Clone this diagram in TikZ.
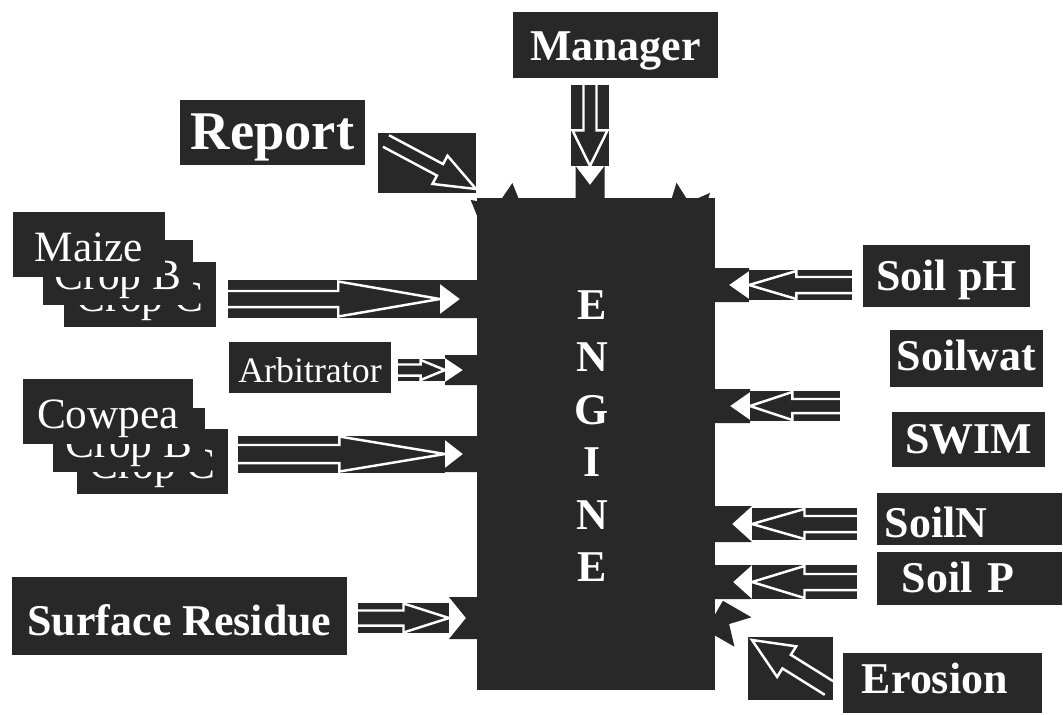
\documentclass[tikz,border=0pt]{standalone}
\usepackage{fontspec}
\setmainfont{Liberation Serif}
\usepackage{tikz}
\usetikzlibrary{calc}
\definecolor{engdark}{RGB}{40,40,40}
\tikzstyle{engine} = [fill=engdark, inner sep=0pt]
\tikzstyle{lbox} = [fill=engdark, text=white, inner sep=0pt, font=\bfseries\fontsize{12.5}{15}\selectfont]
\tikzstyle{cbox} = [fill=engdark, text=white, inner sep=0pt, text height=0.49cm, text depth=0.15cm, font=\fontsize{12.3}{15}\selectfont]
\tikzstyle{englab} = [text=white, align=center, inner sep=0pt, font=\bfseries\fontsize{12.5}{14.9}\selectfont]
\tikzset{
  band/.style={draw=engdark, line width=#1},
  barrow/.style n args={3}{draw=white, line width=0.7pt, to path={
      ($(\tikztostart)!#3!(\tikztotarget)$) coordinate (hb)
      ($(\tikztostart)!#1!90:(\tikztotarget)$) -- ($(hb)!#1!90:(\tikztotarget)$)
      -- ($(hb)!#2!90:(\tikztotarget)$) -- (\tikztotarget)
      -- ($(hb)!#2!-90:(\tikztotarget)$) -- ($(hb)!#1!-90:(\tikztotarget)$)
      -- ($(\tikztostart)!#1!-90:(\tikztotarget)$)}},
  pics/sock/.style n args={4}{code={
      \fill [engdark] (-3,{-#2/2}) -- (#1,{-#2/2}) -- (#1,{-#4}) -- ({#1-#3},0)
        -- (#1,#4) -- (#1,{#2/2}) -- (-3,{#2/2}) -- cycle;
      \coordinate (-mouth) at (#1,0);
  }}
}

\begin{document}
\begin{tikzpicture}[x=0.01cm, y=-0.01cm]
			\useasboundingbox (0,0) rectangle (1063,714);

			% engine and its sockets
			\node [engine, minimum width=2.38cm, minimum height=4.92cm] (engine) at (596,444) {};
			\node [englab] (englab) at (592,436) {E\\N\\G\\I\\N\\E};
			\pic [rotate=180] (sM) at (477,299) {sock={37}{38}{20}{15}};
			\pic [rotate=180] (sA) at (477,370) {sock={32}{30}{18}{12}};
			\pic [rotate=180] (sC) at (477,454) {sock={32}{36}{18}{14}};
			\pic [rotate=180] (sR) at (479,618) {sock={30}{42}{17}{21}};
			\pic (sPH) at (714,285) {sock={35}{34}{20}{14}};
			\pic (sW) at (715,406) {sock={35}{34}{20}{14}};
			\pic (sN) at (714,524) {sock={38}{36}{20}{18}};
			\pic (sP) at (715,582) {sock={37}{34}{19}{17}};
			\pic [rotate=-30] (sE) at (717,617) {sock={30}{34}{16}{17}};
			\pic [rotate=90] (sMan) at (590,198) {sock={32}{29}{19}{14.5}};
			\pic [rotate=112] (sTL) at (499,210) {sock={20}{45}{15}{22.5}};
			\pic [rotate=73] (sTR) at (688,205) {sock={18}{35}{15}{17.5}};

			% modules
			\node [lbox, minimum width=2.05cm, text height=0.48cm, text depth=0.18cm] (manager) at (615.5,45) {Manager};
			\node [lbox, font=\bfseries\fontsize{15.5}{18}\selectfont, minimum width=1.85cm, text height=0.49cm, text depth=0.16cm] (report) at (272.5,132.5) {Report};
			\node [cbox, minimum width=1.51cm] (cropC1) at (140,294.5) {Crop C};
			\node [cbox, minimum width=1.50cm] (cropB1) at (118,272.5) {Crop B};
			\node [cbox, minimum width=1.52cm] (maize) at (89,244.5) {Maize};
			\node [cbox, minimum width=1.62cm, text height=0.40cm, text depth=0.11cm, font=\fontsize{10.2}{12}\selectfont] (arbitrator) at (310,367.5) {Arbitrator};
			\node [cbox, minimum width=1.51cm] (cropC2) at (152.5,461.5) {Crop C};
			\node [cbox, minimum width=1.52cm] (cropB2) at (129,440) {Crop B};
			\node [cbox, minimum width=1.70cm] (cowpea) at (108,411.5) {Cowpea};
			\node [lbox, minimum width=3.35cm, text height=0.58cm, text depth=0.20cm] (residue) at (179.5,616) {Surface Residue};
			\node [lbox, minimum width=1.67cm, text height=0.45cm, text depth=0.17cm] (soilph) at (946.5,276) {Soil pH};
			\node [lbox, minimum width=1.53cm, text height=0.40cm, text depth=0.17cm] (soilwat) at (966.5,358.5) {Soilwat};
			\node [lbox, minimum width=1.53cm, text height=0.41cm, text depth=0.14cm] (swim) at (968.5,439.5) {SWIM};
			\node [lbox, align=left, text width=1.69cm, inner xsep=0.08cm, text height=0.44cm, text depth=0.08cm] (soiln) at (969.5,519) {SoilN};
			\node [lbox, align=left, text width=1.35cm, inner xsep=0.25cm, text height=0.40cm, text depth=0.13cm] (soilp) at (969.5,578.5) {Soil P};
			\node [lbox, align=left, text width=1.61cm, inner xsep=0.19cm, text height=0.40cm, text depth=0.20cm] (erosion) at (942.5,683) {Erosion};

			% arrow tails
			\coordinate (manT) at (590,85);
			\coordinate (maizeT) at (228,299);
			\coordinate (arbT) at (398,370);
			\coordinate (cowT) at (238,454);
			\coordinate (resT) at (358,618);
			\coordinate (phT) at (852,285);
			\coordinate (swT) at (840,406);
			\coordinate (nT) at (857,524);
			\coordinate (pT) at (857,582);
			\coordinate (repS) at (386,141);
			\coordinate (repT) at (476,189);
			\coordinate (eroS) at (829,688);
			\coordinate (eroT) at (752,640);

			% arrows
			\draw [band=0.37cm] (manT) -- (sMan-mouth);
			\draw [barrow={0.065cm}{0.175cm}{0.56}] (manT) to (sMan-mouth);
			\draw [band=0.38cm] (maizeT) -- (sM-mouth);
			\draw [barrow={0.08cm}{0.175cm}{0.52}] (maizeT) to (sM-mouth);
			\draw [band=0.22cm] (arbT) -- (sA-mouth);
			\draw [barrow={0.055cm}{0.10cm}{0.48}] (arbT) to (sA-mouth);
			\draw [band=0.37cm] (cowT) -- (sC-mouth);
			\draw [barrow={0.09cm}{0.175cm}{0.49}] (cowT) to (sC-mouth);
			\draw [band=0.30cm] (resT) -- (sR-mouth);
			\draw [barrow={0.075cm}{0.145cm}{0.5}] (resT) to (sR-mouth);
			\draw [band=0.30cm] (phT) -- (sPH-mouth);
			\draw [barrow={0.08cm}{0.14cm}{0.54}] (phT) to (sPH-mouth);
			\draw [band=0.30cm] (swT) -- (sW-mouth);
			\draw [barrow={0.07cm}{0.14cm}{0.53}] (swT) to (sW-mouth);
			\draw [band=0.32cm] (nT) -- (sN-mouth);
			\draw [barrow={0.08cm}{0.15cm}{0.5}] (nT) to (sN-mouth);
			\draw [band=0.34cm] (pT) -- (sP-mouth);
			\draw [barrow={0.08cm}{0.16cm}{0.5}] (pT) to (sP-mouth);
			\fill [engdark] (378,133) rectangle (476,193);
			\draw [barrow={0.065cm}{0.16cm}{0.6}] (repS) to (repT);
			\fill [engdark] (748,637) rectangle (833,700);
			\draw [barrow={0.08cm}{0.18cm}{0.55}] (eroS) to (eroT);
\end{tikzpicture}
\end{document}
